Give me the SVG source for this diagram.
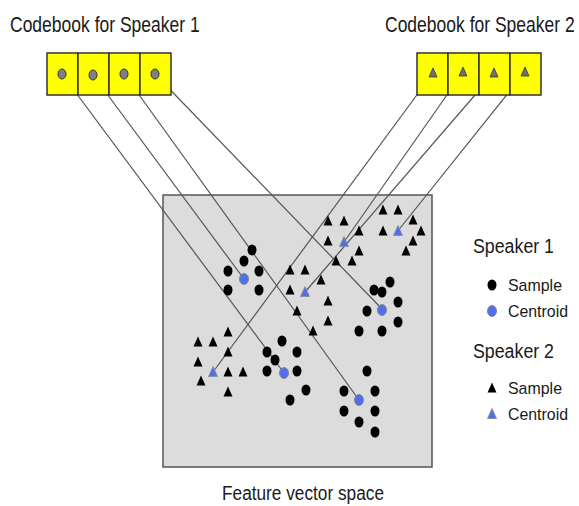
<svg xmlns="http://www.w3.org/2000/svg" xmlns:xlink="http://www.w3.org/1999/xlink" width="579" height="506" viewBox="0 0 579 506">
<style>
text{font-family:"Liberation Sans",Arial,sans-serif;fill:#1a1a1a}
.title{font-size:17.5px}
.leg{font-size:20px}
.legs{font-size:17px}
.cell{fill:#ffff00;stroke:#333;stroke-width:1.5}
.cbc{fill:#808080;stroke:#333;stroke-width:1}
.cbt{fill:#707070;stroke:#333;stroke-width:0.8}
.s{fill:#000}
.c{fill:#4f6ff0;stroke:#8a8a8a;stroke-width:1}
.ct{fill:#4f6ff0;stroke:#8a8a8a;stroke-width:0.8}
.ln{stroke:#555;stroke-width:1.2;fill:none}
</style>
<defs>
<path id="tri" d="M0,-5.5 L4.5,4.5 L-4.5,4.5 Z"/>
<path id="stri" d="M0,-5 L4,4 L-4,4 Z"/>
<ellipse id="dot" cx="0" cy="0" rx="4.5" ry="5.5"/>
</defs>

<g id="titles">
<text class="title" transform="translate(10,32) scale(1,1.22)" x="0" y="0">Codebook for Speaker 1</text>
<text class="title" transform="translate(385,32) scale(1,1.22)" x="0" y="0">Codebook for Speaker 2</text>
<text class="leg" x="222" y="500" textLength="162" lengthAdjust="spacingAndGlyphs">Feature vector space</text>
</g>

<g id="feature-space">
<rect x="163" y="195" width="269" height="272" fill="#dcdcdc" stroke="#555" stroke-width="1.5"/>
</g>

<g id="connectors" class="ln">
<line x1="62" y1="74" x2="284" y2="373"/>
<line x1="93" y1="75" x2="244" y2="279"/>
<line x1="124" y1="74" x2="359" y2="400"/>
<line x1="155" y1="74" x2="383" y2="310"/>
<line x1="433" y1="73" x2="213" y2="372"/>
<line x1="463" y1="72" x2="344" y2="242"/>
<line x1="494" y1="73" x2="305" y2="292"/>
<line x1="525" y1="72" x2="397" y2="232"/>
</g>

<g id="codebook-1">
<rect class="cell" x="47" y="53" width="31" height="42"/>
<rect class="cell" x="78" y="53" width="31" height="42"/>
<rect class="cell" x="109" y="53" width="31" height="42"/>
<rect class="cell" x="140" y="53" width="31" height="42"/>
<ellipse class="cbc" cx="62" cy="74" rx="4" ry="5"/>
<ellipse class="cbc" cx="93" cy="75" rx="4" ry="5"/>
<ellipse class="cbc" cx="124" cy="74" rx="4" ry="5"/>
<ellipse class="cbc" cx="155" cy="74" rx="4" ry="5"/>
</g>

<g id="codebook-2">
<rect class="cell" x="417" y="53" width="31" height="42"/>
<rect class="cell" x="448" y="53" width="31" height="42"/>
<rect class="cell" x="479" y="53" width="31" height="42"/>
<rect class="cell" x="510" y="53" width="31" height="42"/>
<use href="#stri" class="cbt" x="433" y="73"/>
<use href="#stri" class="cbt" x="463" y="72"/>
<use href="#stri" class="cbt" x="494" y="73"/>
<use href="#stri" class="cbt" x="525" y="72"/>
</g>

<g id="speaker1-cluster-a" class="s">
<use href="#dot" x="252" y="250"/>
<use href="#dot" x="244" y="261"/>
<use href="#dot" x="228" y="271"/>
<use href="#dot" x="259" y="271"/>
<use href="#dot" x="228" y="290"/>
<use href="#dot" x="259" y="290"/>
<use href="#dot" class="c" x="244" y="279"/>
</g>

<g id="speaker1-cluster-b" class="s">
<use href="#dot" x="390" y="282"/>
<use href="#dot" x="374" y="290"/>
<use href="#dot" x="382" y="292"/>
<use href="#dot" x="398" y="302"/>
<use href="#dot" x="367" y="311"/>
<use href="#dot" x="398" y="322"/>
<use href="#dot" x="359" y="331"/>
<use href="#dot" x="382" y="331"/>
<use href="#dot" class="c" x="382" y="310"/>
</g>

<g id="speaker1-cluster-c" class="s">
<use href="#dot" x="282" y="341"/>
<use href="#dot" x="267" y="352"/>
<use href="#dot" x="297" y="352"/>
<use href="#dot" x="275" y="360"/>
<use href="#dot" x="267" y="371"/>
<use href="#dot" x="297" y="371"/>
<use href="#dot" x="306" y="390"/>
<use href="#dot" x="290" y="400"/>
<use href="#dot" class="c" x="284" y="373"/>
</g>

<g id="speaker1-cluster-d" class="s">
<use href="#dot" x="367" y="371"/>
<use href="#dot" x="344" y="391"/>
<use href="#dot" x="375" y="391"/>
<use href="#dot" x="344" y="411"/>
<use href="#dot" x="375" y="411"/>
<use href="#dot" x="359" y="422"/>
<use href="#dot" x="375" y="432"/>
<use href="#dot" class="c" x="359" y="400"/>
</g>

<g id="speaker2-cluster-e" class="s">
<use href="#tri" x="383" y="210"/>
<use href="#tri" x="398" y="210"/>
<use href="#tri" x="413" y="220"/>
<use href="#tri" x="383" y="231"/>
<use href="#tri" x="421" y="231"/>
<use href="#tri" x="413" y="241"/>
<use href="#tri" x="406" y="251"/>
<use href="#tri" class="ct" x="398" y="231"/>
</g>

<g id="speaker2-cluster-f" class="s">
<use href="#tri" x="328" y="221"/>
<use href="#tri" x="344" y="221"/>
<use href="#tri" x="359" y="231"/>
<use href="#tri" x="328" y="241"/>
<use href="#tri" x="359" y="251"/>
<use href="#tri" x="336" y="261"/>
<use href="#tri" x="352" y="261"/>
<use href="#tri" class="ct" x="344" y="242"/>
</g>

<g id="speaker2-cluster-g" class="s">
<use href="#tri" x="290" y="270"/>
<use href="#tri" x="305" y="270"/>
<use href="#tri" x="321" y="280"/>
<use href="#tri" x="290" y="290"/>
<use href="#tri" x="328" y="301"/>
<use href="#tri" x="297" y="311"/>
<use href="#tri" x="328" y="321"/>
<use href="#tri" x="313" y="331"/>
<use href="#tri" class="ct" x="305" y="292"/>
</g>

<g id="speaker2-cluster-h" class="s">
<use href="#tri" x="228" y="332"/>
<use href="#tri" x="198" y="342"/>
<use href="#tri" x="213" y="342"/>
<use href="#tri" x="228" y="352"/>
<use href="#tri" x="198" y="362"/>
<use href="#tri" x="228" y="372"/>
<use href="#tri" x="243" y="372"/>
<use href="#tri" x="201" y="381"/>
<use href="#tri" x="228" y="392"/>
<use href="#tri" class="ct" x="213" y="372"/>
</g>

<g id="legend">
<text class="leg" x="473" y="253" textLength="81" lengthAdjust="spacingAndGlyphs">Speaker 1</text>
<use href="#dot" class="s" x="492" y="285"/>
<text class="legs" x="508" y="291" textLength="54" lengthAdjust="spacingAndGlyphs">Sample</text>
<use href="#dot" class="c" x="492" y="311"/>
<text class="legs" x="508" y="317" textLength="60" lengthAdjust="spacingAndGlyphs">Centroid</text>
<text class="leg" x="473" y="358" textLength="81" lengthAdjust="spacingAndGlyphs">Speaker 2</text>
<use href="#tri" class="s" x="492" y="388"/>
<text class="legs" x="508" y="394" textLength="54" lengthAdjust="spacingAndGlyphs">Sample</text>
<use href="#tri" class="ct" x="492" y="414"/>
<text class="legs" x="508" y="420" textLength="60" lengthAdjust="spacingAndGlyphs">Centroid</text>
</g>
</svg>
